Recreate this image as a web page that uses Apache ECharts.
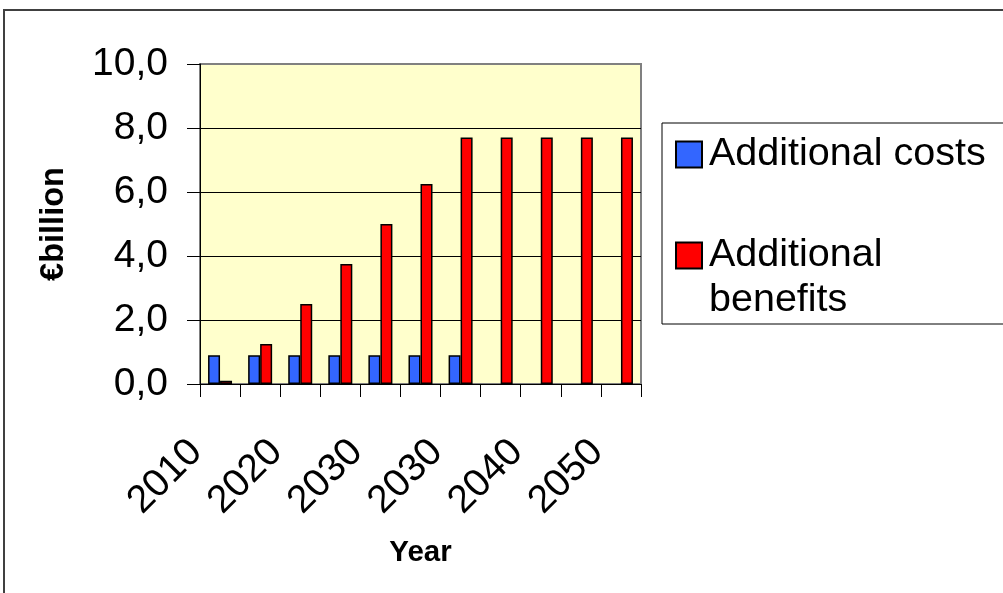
<!DOCTYPE html>
<html>
<head>
<meta charset="utf-8">
<script src="https://cdn.jsdelivr.net/npm/echarts@6/dist/echarts.min.js"></script>
<style>
html,body{margin:0;padding:0;background:#fff;}
#chart{width:1003px;height:593px;}
</style>
</head>
<body>
<div id="chart"></div>
<script>
// Tick labels shown under every second category slot
var yearLabels = ['2010', '2020', '2030', '2030', '2040', '2050'];
// 11 category slots; labelled every other slot
var categories = ['2010', '', '2020', '', '2030', '', '2030', '', '2040', '', '2050'];
var seriesNames = ['Additional costs', 'Additional benefits'];
var costs = [0.9, 0.9, 0.9, 0.9, 0.9, 0.9, 0.9, null, null, null, null];
var benefits = [0.1, 1.25, 2.5, 3.75, 5.0, 6.25, 7.7, 7.7, 7.7, 7.7, 7.7];
var yTicks = [0, 2, 4, 6, 8, 10];

var FONT = 'Arial, "Liberation Sans", sans-serif';
var chart = echarts.init(document.getElementById('chart'), null, {renderer: 'canvas'});

var legendText = {fontFamily: FONT, fontSize: 39.5, color: '#000', lineHeight: 45};
var squareIcon = 'path://M0,0H26V26H0Z';

var option = {
  backgroundColor: '#ffffff',
  animation: false,
  graphic: [
    {type: 'rect', z: -10, shape: {x: 4, y: 10, width: 1020, height: 600},
     style: {fill: '#ffffff', stroke: '#404040', lineWidth: 2}},
    {type: 'rect', z: 0, shape: {x: 662, y: 123, width: 400, height: 201},
     style: {fill: '#ffffff', stroke: '#000000', lineWidth: 1}}
  ],
  legend: [
    {
      orient: 'vertical', left: 675, top: 132, padding: 0,
      itemWidth: 30, itemHeight: 26, icon: squareIcon, symbolKeepAspect: true, z: 5,
      textStyle: legendText,
      data: [seriesNames[0]]
    },
    {
      orient: 'vertical', left: 675, top: 188, padding: 0,
      itemWidth: 30, itemHeight: 26, icon: squareIcon, symbolKeepAspect: true, z: 5,
      textStyle: legendText,
      data: [seriesNames[1]],
      formatter: function (n) { return '\nAdditional\nbenefits'; }
    }
  ],
  grid: {
    left: 200, right: 362, top: 64, bottom: 209,
    show: true, backgroundColor: '#FFFFCC', borderColor: '#808080', borderWidth: 2
  },
  xAxis: {
    type: 'category',
    data: categories,
    name: 'Year',
    nameLocation: 'middle',
    nameGap: 154,
    nameTextStyle: {fontFamily: FONT, fontSize: 29.5, fontWeight: 'bold', color: '#000'},
    axisLine: {show: true, lineStyle: {color: '#000', width: 1}},
    axisTick: {show: true, length: 13, interval: 0, alignWithLabel: false, lineStyle: {color: '#000', width: 1}},
    axisLabel: {
      interval: 0, rotate: 45, margin: 38,
      fontFamily: FONT, fontSize: 39, color: '#000',
      padding: [0, 34, 0, 0]
    },
    splitLine: {show: false}
  },
  yAxis: {
    type: 'value',
    min: yTicks[0], max: yTicks[yTicks.length - 1], interval: 2,
    name: '€billion',
    nameLocation: 'middle',
    nameGap: 129,
    nameTextStyle: {fontFamily: FONT, fontSize: 32.5, fontWeight: 'bold', color: '#000'},
    axisLine: {show: true, lineStyle: {color: '#000', width: 1}},
    axisTick: {show: true, length: 13, lineStyle: {color: '#000', width: 1}},
    axisLabel: {
      margin: 32, fontFamily: FONT, fontSize: 39, color: '#000',
      formatter: function (v) { return v.toFixed(1).replace('.', ','); }
    },
    splitLine: {show: true, lineStyle: {color: ['#000', '#000', '#000', '#000', '#000', '#808080'], width: 1}}
  },
  series: [
    {
      name: seriesNames[0], type: 'bar', data: costs,
      barWidth: 12, barGap: '0%',
      itemStyle: {color: '#3366FF', borderColor: '#000', borderWidth: 1.5}
    },
    {
      name: seriesNames[1], type: 'bar', data: benefits,
      barWidth: 12, barGap: '0%',
      itemStyle: {color: '#FF0000', borderColor: '#000', borderWidth: 1.5}
    }
  ]
};
chart.setOption(option);
</script>
</body>
</html>
